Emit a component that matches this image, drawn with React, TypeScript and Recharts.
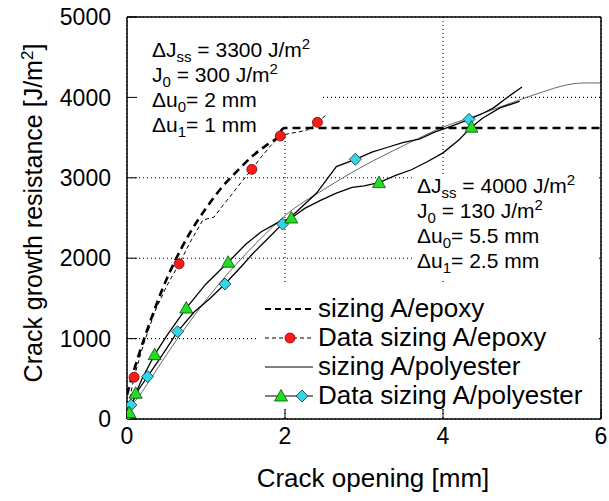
import React from "react"
import {
  ComposedChart,
  Line,
  Scatter,
  XAxis,
  YAxis,
  CartesianGrid,
  Customized,
} from "recharts"

// Tick values
const xTicks = [0, 2, 4, 6]
const yTicks = [0, 1000, 2000, 3000, 4000, 5000]

// sizing A/epoxy model (thick dashed)
const epoxyModelX = [0, 0.05, 0.15, 0.3, 0.45, 0.6, 0.8, 1.0, 1.2, 1.4, 1.6, 1.8, 1.9, 1.97, 2.0, 6.0]
const epoxyModelY = [300, 480, 800, 1230, 1620, 1950, 2320, 2620, 2880, 3090, 3280, 3430, 3500, 3610, 3620, 3620]

// Data sizing A/epoxy (thin dashed line + red dots)
const epoxyDataX = [0, 0.04, 0.09, 0.2, 0.35, 0.5, 0.66, 0.8, 0.96, 1.1, 1.2, 1.34, 1.45, 1.58, 1.7, 1.82, 1.94, 2.05, 2.17, 2.3, 2.41, 2.53]
const epoxyDataY = [0, 280, 520, 900, 1330, 1650, 1930, 2200, 2475, 2510, 2640, 2810, 2950, 3105, 3260, 3400, 3520, 3550, 3570, 3600, 3690, 3790]
const epoxyMarkX = [0.09, 0.66, 1.58, 1.94, 2.41]
const epoxyMarkY = [520, 1930, 3105, 3520, 3690]

// sizing A/polyester model (thin solid)
const polyModelX = [0, 0.1, 0.3, 0.5, 0.75, 1.0, 1.25, 1.5, 1.75, 2.0, 2.5, 3.0, 3.5, 4.0, 4.5, 5.0, 5.3, 5.5, 5.7, 5.85, 6.0]
const polyModelY = [130, 220, 500, 800, 1150, 1480, 1780, 2050, 2300, 2530, 2860, 3150, 3400, 3630, 3800, 3980, 4080, 4140, 4175, 4180, 4180]

// Data sizing A/polyester, specimen with triangles
const polyTriLineX = [0, 0.03, 0.11, 0.2, 0.35, 0.5, 0.75, 1.0, 1.28, 1.5, 1.7, 1.9, 2.08, 2.25, 2.45, 2.65, 2.85, 3.0, 3.19, 3.4, 3.6, 3.8, 4.0, 4.2, 4.36, 4.5, 4.72, 4.97]
const polyTriLineY = [0, 80, 320, 520, 800, 1030, 1380, 1680, 1950, 2170, 2330, 2440, 2500, 2620, 2720, 2810, 2880, 2900, 2940, 3030, 3100, 3200, 3310, 3470, 3630, 3740, 3870, 3950]
const polyTriMarkX = [0, 0.03, 0.11, 0.35, 0.75, 1.28, 2.08, 3.19, 4.36]
const polyTriMarkY = [0, 80, 320, 800, 1380, 1950, 2500, 2940, 3630]

// Data sizing A/polyester, specimen with diamonds
const polyDiaLineX = [0, 0.05, 0.15, 0.26, 0.45, 0.64, 0.85, 1.05, 1.24, 1.45, 1.6, 1.8, 1.97, 2.15, 2.4, 2.65, 2.89, 3.1, 3.3, 3.5, 3.7, 3.9, 4.1, 4.33, 4.5, 4.64, 4.8, 5.0]
const polyDiaLineY = [0, 174, 370, 526, 800, 1086, 1330, 1500, 1679, 1900, 2065, 2260, 2430, 2580, 2810, 3140, 3230, 3320, 3380, 3440, 3480, 3570, 3640, 3727, 3800, 3870, 3990, 4130]
const polyDiaMarkX = [0.05, 0.26, 0.64, 1.24, 1.97, 2.89, 4.33]
const polyDiaMarkY = [174, 526, 1086, 1679, 2425, 3230, 3727]

const legendLabels = ["sizing A/epoxy", "Data sizing A/epoxy", "sizing A/polyester", "Data sizing A/polyester"]

const toPts = (xs: number[], ys: number[]) => xs.map((x, i) => ({ x, y: ys[i] }))

const FONT = "'Liberation Sans', Arial, Helvetica, sans-serif"

const RED = "#ff1a1a"
const GREEN = "#22dd22"
const CYAN = "#33d6e6"

const Circle = ({ cx, cy }: any) => (
  <circle cx={cx} cy={cy} r={5} fill={RED} stroke="#7a0000" strokeWidth={0.8} />
)
const Triangle = ({ cx, cy }: any) => (
  <polygon
    points={`${cx - 6.5},${cy + 5} ${cx + 6.5},${cy + 5} ${cx},${cy - 6.5}`}
    fill={GREEN}
    stroke="#0b4a0b"
    strokeWidth={0.8}
  />
)
const Diamond = ({ cx, cy }: any) => (
  <polygon
    points={`${cx},${cy - 6} ${cx + 6},${cy} ${cx},${cy + 6} ${cx - 6},${cy}`}
    fill={CYAN}
    stroke="#10303a"
    strokeWidth={0.8}
  />
)

// one annotation line: main text, optional subscript, rest, optional superscript
function AnnoLine({ x, y, a, sub, b, sup }: any) {
  return (
    <text x={x} y={y} fontSize={21} fill="#000">
      {a}
      {sub && (
        <tspan dy={5} fontSize={15}>
          {sub}
        </tspan>
      )}
      <tspan dy={sub ? -5 : 0}>{b}</tspan>
      {sup && (
        <tspan dy={-8} fontSize={15}>
          {sup}
        </tspan>
      )}
    </text>
  )
}

function Overlay() {
  const lx0 = 265
  const lx1 = 313
  const rows = [309, 338, 367, 396]
  return (
    <g fontFamily={FONT}>
      {/* white boxes behind the text blocks hide the grid */}
      <rect x={129} y={19} width={191} height={116} fill="#fff" />
      <rect x={412} y={174} width={187} height={104} fill="#fff" />
      <rect x={258} y={285} width={341} height={124} fill="#fff" />

      {/* parameters, epoxy */}
      <AnnoLine x={152} y={57} a={"\u0394J"} sub="ss" b={" = 3300 J/m"} sup="2" />
      <AnnoLine x={152} y={82} a="J" sub="0" b={" = 300 J/m"} sup="2" />
      <AnnoLine x={152} y={107} a={"\u0394u"} sub="0" b={"= 2 mm"} />
      <AnnoLine x={152} y={132} a={"\u0394u"} sub="1" b={"= 1 mm"} />

      {/* parameters, polyester */}
      <AnnoLine x={417} y={193} a={"\u0394J"} sub="ss" b={" = 4000 J/m"} sup="2" />
      <AnnoLine x={417} y={218} a="J" sub="0" b={" = 130 J/m"} sup="2" />
      <AnnoLine x={417} y={243} a={"\u0394u"} sub="0" b={"= 5.5 mm"} />
      <AnnoLine x={417} y={268} a={"\u0394u"} sub="1" b={"= 2.5 mm"} />

      {/* legend */}
      <line x1={lx0} x2={lx1} y1={rows[0]} y2={rows[0]} stroke="#000" strokeWidth={2} strokeDasharray="6 4" />
      <line x1={lx0} x2={lx1} y1={rows[1]} y2={rows[1]} stroke="#000" strokeWidth={1} strokeDasharray="4 3" />
      <Circle cx={290} cy={rows[1]} />
      <line x1={lx0} x2={lx1} y1={rows[2]} y2={rows[2]} stroke="#000" strokeWidth={1} />
      <line x1={lx0} x2={lx1} y1={rows[3]} y2={rows[3]} stroke="#000" strokeWidth={1} />
      <Triangle cx={281} cy={rows[3]} />
      <Diamond cx={302} cy={rows[3]} />
      {legendLabels.map((t, i) => (
        <text key={t} x={318} y={rows[i] + 8} fontSize={26} fill="#000">
          {t}
        </text>
      ))}

      {/* axis titles */}
      <text x={373} y={487} fontSize={26} textAnchor="middle" fill="#000">
        Crack opening [mm]
      </text>
      <text transform="translate(42,213) rotate(-90)" fontSize={25} textAnchor="middle" fill="#000">
        {"Crack growth resistance [J/m"}
        <tspan dy={-9} fontSize={17}>
          2
        </tspan>
        <tspan dy={9}>]</tspan>
      </text>
    </g>
  )
}

export default function App() {
  return (
    <div style={{ position: "absolute", left: 0, top: 0 }}>
      <ComposedChart
        width={609}
        height={501}
        margin={{ top: 16, right: 7, bottom: 0, left: 0 }}
        style={{ fontFamily: FONT }}
      >
        <CartesianGrid stroke="#000" strokeWidth={1.1} strokeDasharray="1 3" />

        <Customized component={Overlay} />

        <XAxis
          dataKey="x"
          type="number"
          domain={[0, 6]}
          ticks={xTicks}
          allowDataOverflow
          height={82}
          tickSize={-10}
          tickMargin={19}
          stroke="#000"
          axisLine={{ stroke: "#000", strokeWidth: 1.5 }}
          tick={{ fill: "#000", fontSize: 23 }}
        />
        <XAxis
          xAxisId="top"
          orientation="top"
          dataKey="x"
          type="number"
          domain={[0, 6]}
          ticks={xTicks}
          allowDataOverflow
          height={1}
          tickSize={-10}
          tick={false}
          stroke="#000"
          axisLine={{ stroke: "#000", strokeWidth: 1.5 }}
        />
        <YAxis
          type="number"
          domain={[0, 5000]}
          ticks={yTicks}
          allowDataOverflow
          width={127}
          tickSize={-10}
          tickMargin={26}
          stroke="#000"
          axisLine={{ stroke: "#000", strokeWidth: 1.5 }}
          tick={{ fill: "#000", fontSize: 23 }}
        />
        <YAxis
          yAxisId="right"
          orientation="right"
          type="number"
          domain={[0, 5000]}
          ticks={yTicks}
          allowDataOverflow
          width={1}
          tickSize={-10}
          tick={false}
          stroke="#000"
          axisLine={{ stroke: "#000", strokeWidth: 1.5 }}
        />

        <Line
          data={toPts(polyModelX, polyModelY)}
          dataKey="y"
          type="monotone"
          stroke="#555"
          strokeWidth={0.9}
          dot={false}
          activeDot={false}
          isAnimationActive={false}
        />
        <Line
          data={toPts(polyTriLineX, polyTriLineY)}
          dataKey="y"
          type="linear"
          stroke="#000"
          strokeWidth={1.3}
          dot={false}
          activeDot={false}
          isAnimationActive={false}
        />
        <Line
          data={toPts(polyDiaLineX, polyDiaLineY)}
          dataKey="y"
          type="linear"
          stroke="#000"
          strokeWidth={1.3}
          dot={false}
          activeDot={false}
          isAnimationActive={false}
        />
        <Line
          data={toPts(epoxyDataX, epoxyDataY)}
          dataKey="y"
          type="linear"
          stroke="#000"
          strokeWidth={1}
          strokeDasharray="4 3"
          dot={false}
          activeDot={false}
          isAnimationActive={false}
        />
        <Line
          data={toPts(epoxyModelX, epoxyModelY)}
          dataKey="y"
          type="monotone"
          stroke="#000"
          strokeWidth={2.6}
          strokeDasharray="8 5"
          dot={false}
          activeDot={false}
          isAnimationActive={false}
        />

        <Scatter data={toPts(epoxyMarkX, epoxyMarkY)} dataKey="y" shape={Circle} isAnimationActive={false} />
        <Scatter data={toPts(polyDiaMarkX, polyDiaMarkY)} dataKey="y" shape={Diamond} isAnimationActive={false} />
        <Scatter data={toPts(polyTriMarkX, polyTriMarkY)} dataKey="y" shape={Triangle} isAnimationActive={false} />
      </ComposedChart>
    </div>
  )
}
